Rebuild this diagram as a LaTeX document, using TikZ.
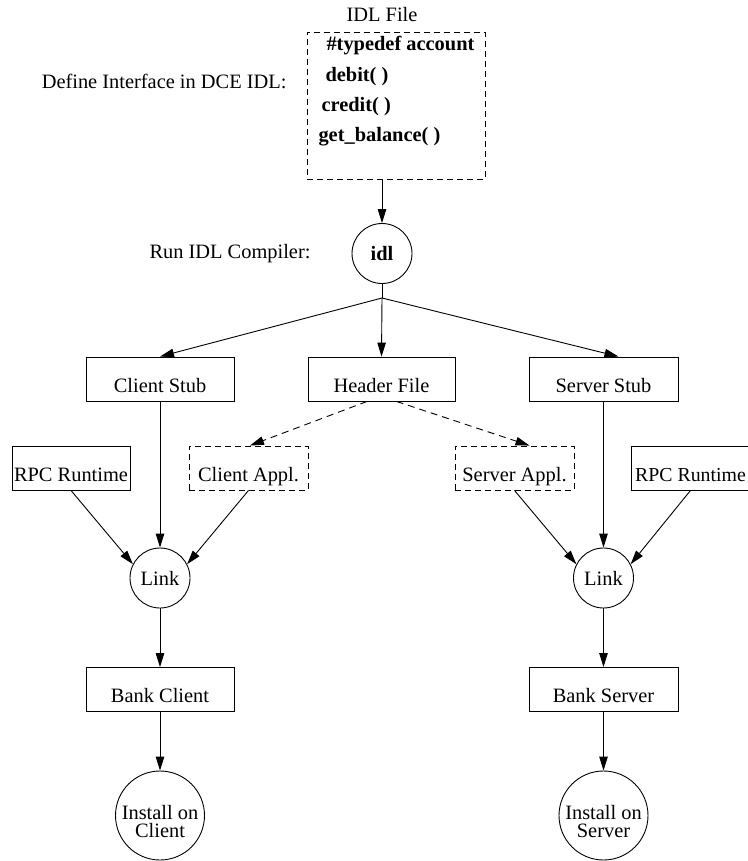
\documentclass[tikz,border=0pt]{standalone}
\usepackage{fontspec}
\setmainfont{Liberation Serif}
\usetikzlibrary{arrows.meta}
\tikzset{
  every node/.style={font=\fontsize{20.4}{24}\selectfont},
  ln/.style={line width=0.9pt},
  arr/.style={ln, -{Triangle[length=14pt,width=8.5pt]}},
  dasharr/.style={arr, dash pattern=on 7pt off 5pt},
  box/.style={draw, ln, rectangle, inner sep=0pt, minimum height=44pt, text height=35pt, text depth=9pt},
  dbox/.style={box, dash pattern=on 6pt off 4pt},
  circ/.style={draw, ln, circle, inner sep=0pt, minimum size=60pt},
  bigcirc/.style={draw, ln, circle, inner sep=0pt, minimum size=89pt},
  idltext/.style={anchor=base west, font=\fontsize{20.4}{24}\selectfont\bfseries},
  insttext/.style={align=center, font=\fontsize{20.4}{18.5}\selectfont, yshift=-6pt},
}
\begin{document}
\begin{tikzpicture}[x=1pt, y=-1pt]
\useasboundingbox (0,0) rectangle (747,861);

% IDL file
\node[anchor=base] (idlfile) at (382,22) {IDL File};
\node[draw, ln, dash pattern=on 6pt off 4pt, rectangle, inner sep=0pt, minimum width=178pt, minimum height=147pt] (idlbox) at (396,105.5) {};
\node[idltext] (t1) at (323,51) {\#typedef account};
\node[idltext] (t2) at (322,82) {debit( )};
\node[idltext] (t3) at (318,112) {credit( )};
\node[idltext] (t4) at (315,142) {get\_balance( )};
\node[anchor=base east] (define) at (290,89) {Define Interface in DCE IDL:};

% idl compiler
\node[circ, font=\fontsize{20.4}{24}\selectfont\bfseries] (idlc) at (382,253.5) {idl};
\node[anchor=base east] (runidl) at (314,258) {Run IDL Compiler:};
\coordinate (br) at (382,298);

% row 1
\node[box, minimum width=148pt] (cstub) at (160,379) {Client Stub};
\node[box, minimum width=147pt] (hdr) at (381.5,379) {Header File};
\node[box, minimum width=149pt] (sstub) at (603.5,379) {Server Stub};

% row 2
\node[box, minimum width=118pt] (rpcL) at (71,468) {RPC Runtime};
\node[dbox, minimum width=119pt] (cappl) at (248.5,468) {Client Appl.};
\node[dbox, minimum width=119pt] (sappl) at (514.5,468) {Server Appl.};
\node[box, minimum width=118pt, font=\fontsize{19.8}{24}\selectfont] (rpcR) at (690.5,468) {RPC Runtime};

% links
\node[circ] (linkL) at (160,578) {Link};
\node[circ] (linkR) at (603.5,578) {Link};

% bank
\node[box, minimum width=148pt] (bankC) at (160,689.5) {Bank Client};
\node[box, minimum width=149pt] (bankS) at (603.5,689.5) {Bank Server};

% install
\node[bigcirc] (instC) at (160,815.5) {};
\node[bigcirc] (instS) at (603.5,815.5) {};
\node[insttext] (instCt) at (instC.center) {Install on\\Client};
\node[insttext] (instSt) at (instS.center) {Install on\\Server};

% connectors
\draw[arr] (idlbox.south -| idlc.center) -- (idlc);
\draw[ln] (idlc) -- (br);
\draw[arr] (br) -- (cstub.north);
\draw[arr] (br) -- (hdr.north);
\draw[arr] (br) -- ([xshift=15pt]sstub.north);

\draw[dasharr] ([xshift=-14.5pt]hdr.south) -- ([xshift=1.5pt]cappl.north);
\draw[dasharr] ([xshift=15pt]hdr.south) -- ([xshift=15pt]sappl.north);

\draw[arr] (cstub.south) -- (linkL.north);
\draw[arr] (rpcL.south) -- (linkL.153);
\draw[arr] (cappl.south) -- (linkL.27);
\draw[arr] (sstub.south) -- (linkR.north);
\draw[arr] (sappl.south) -- (linkR.153);
\draw[arr] (rpcR.south) -- (linkR.27);

\draw[arr] (linkL) -- (bankC.north);
\draw[arr] (linkR) -- (bankS.north);
\draw[arr] (bankC) -- (instC.north);
\draw[arr] (bankS) -- (instS.north);
\end{tikzpicture}
\end{document}
